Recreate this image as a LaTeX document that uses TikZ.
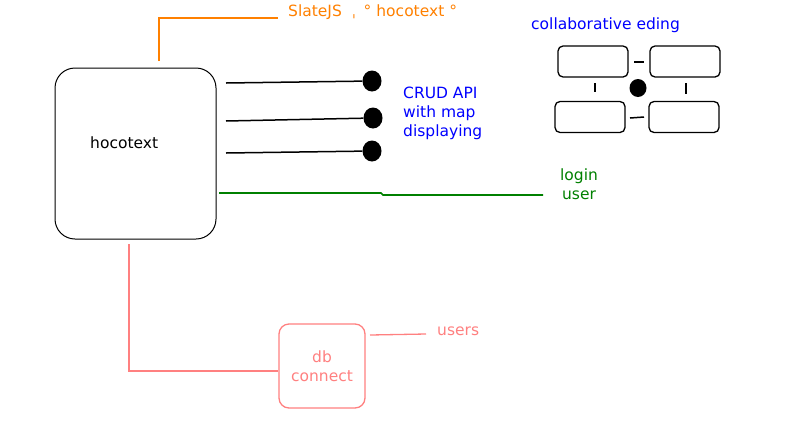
\documentclass[tikz,border=0pt]{standalone}
\usepackage{fontspec}
\setmainfont{DejaVu Sans}
\usetikzlibrary{shapes.geometric}
\definecolor{slateorange}{RGB}{255,128,0}
\definecolor{crudblue}{RGB}{0,0,255}
\definecolor{logingreen}{RGB}{0,128,0}
\definecolor{dbred}{RGB}{255,128,128}
\begin{document}
\begin{tikzpicture}[x=1pt,y=-1pt,
    every node/.style={font=\fontsize{15.5}{19}\selectfont,inner sep=0pt},
    bigbox/.style={draw,rounded corners=20pt,line width=1pt,minimum width=161pt,minimum height=171pt},
    pad/.style={draw,rounded corners=5pt,line width=1.3pt,minimum width=70pt,minimum height=31pt},
    blob/.style={ellipse,fill,minimum width=19pt,minimum height=21pt},
    wire/.style={line width=1.5pt}]
  \useasboundingbox (0,0) rectangle (802,426);
  % main block
  \node[bigbox] (hoco) at (135.5,153.5) {};
  \node[anchor=west] (hocolabel) at (90,143) {hocotext};
  % editor
  \coordinate (slatefoot) at (159,61);
  \coordinate (slateend) at (278,18);
  \node[anchor=west,text=slateorange] (slate) at (288,12) {SlateJS\,\, ˌ \,° hocotext °};
  \draw[slateorange,line width=1.5pt] (slatefoot) |- (slateend);
  % crud api
  \node[blob] (crudA) at (372,81) {};
  \node[blob] (crudB) at (373,118) {};
  \node[blob] (crudC) at (372,151) {};
  \coordinate (outA) at (226,83);
  \coordinate (outB) at (226,121);
  \coordinate (outC) at (226,153);
  \draw[wire] (outA) -- (crudA);
  \draw[wire] (outB) -- (crudB);
  \draw[wire] (outC) -- (crudC);
  \node[anchor=west,align=left,text=crudblue] (crud) at (403,113) {CRUD API\\with map\\displaying};
  % login
  \coordinate (loginstart) at (219,193);
  \coordinate (loginend) at (543,195);
  \node[align=center,text=logingreen] (login) at (579,184) {login\\user};
  \draw[logingreen,line width=1.6pt] (loginstart) -- (381,193) -- (383,195) -- (loginend);
  % collaborative editing
  \node[anchor=west,text=crudblue] (collab) at (531,25) {collaborative eding};
  \node[pad] (padTL) at (593,61.5) {};
  \node[pad] (padTR) at (685,61.5) {};
  \node[pad] (padBL) at (590,117) {};
  \node[pad] (padBR) at (684,117) {};
  \node[blob,minimum width=17pt,minimum height=18pt] (hub) at (638,88) {};
  \draw[wire] (634,62) -- (644,62);
  \draw[wire] (630,118) -- (644,117);
  \draw[wire] (595,83) -- (595,92);
  \draw[wire] (686,83) -- (686,94);
  % database
  \node[draw=dbred,text=dbred,rounded corners=10pt,line width=1.3pt,minimum width=86pt,minimum height=84pt,align=center] (db) at (322,366) {db\\connect};
  \coordinate (dbtop) at (129,244);
  \draw[dbred,line width=1.3pt] (dbtop) |- (db.west |- 0,371);
  \node[anchor=west,text=dbred] (users) at (437,331) {users};
  \coordinate (usersA) at (370,335);
  \coordinate (usersB) at (426,334);
  \draw[dbred,line width=1.3pt] (usersA) -- (usersB);
\end{tikzpicture}
\end{document}
